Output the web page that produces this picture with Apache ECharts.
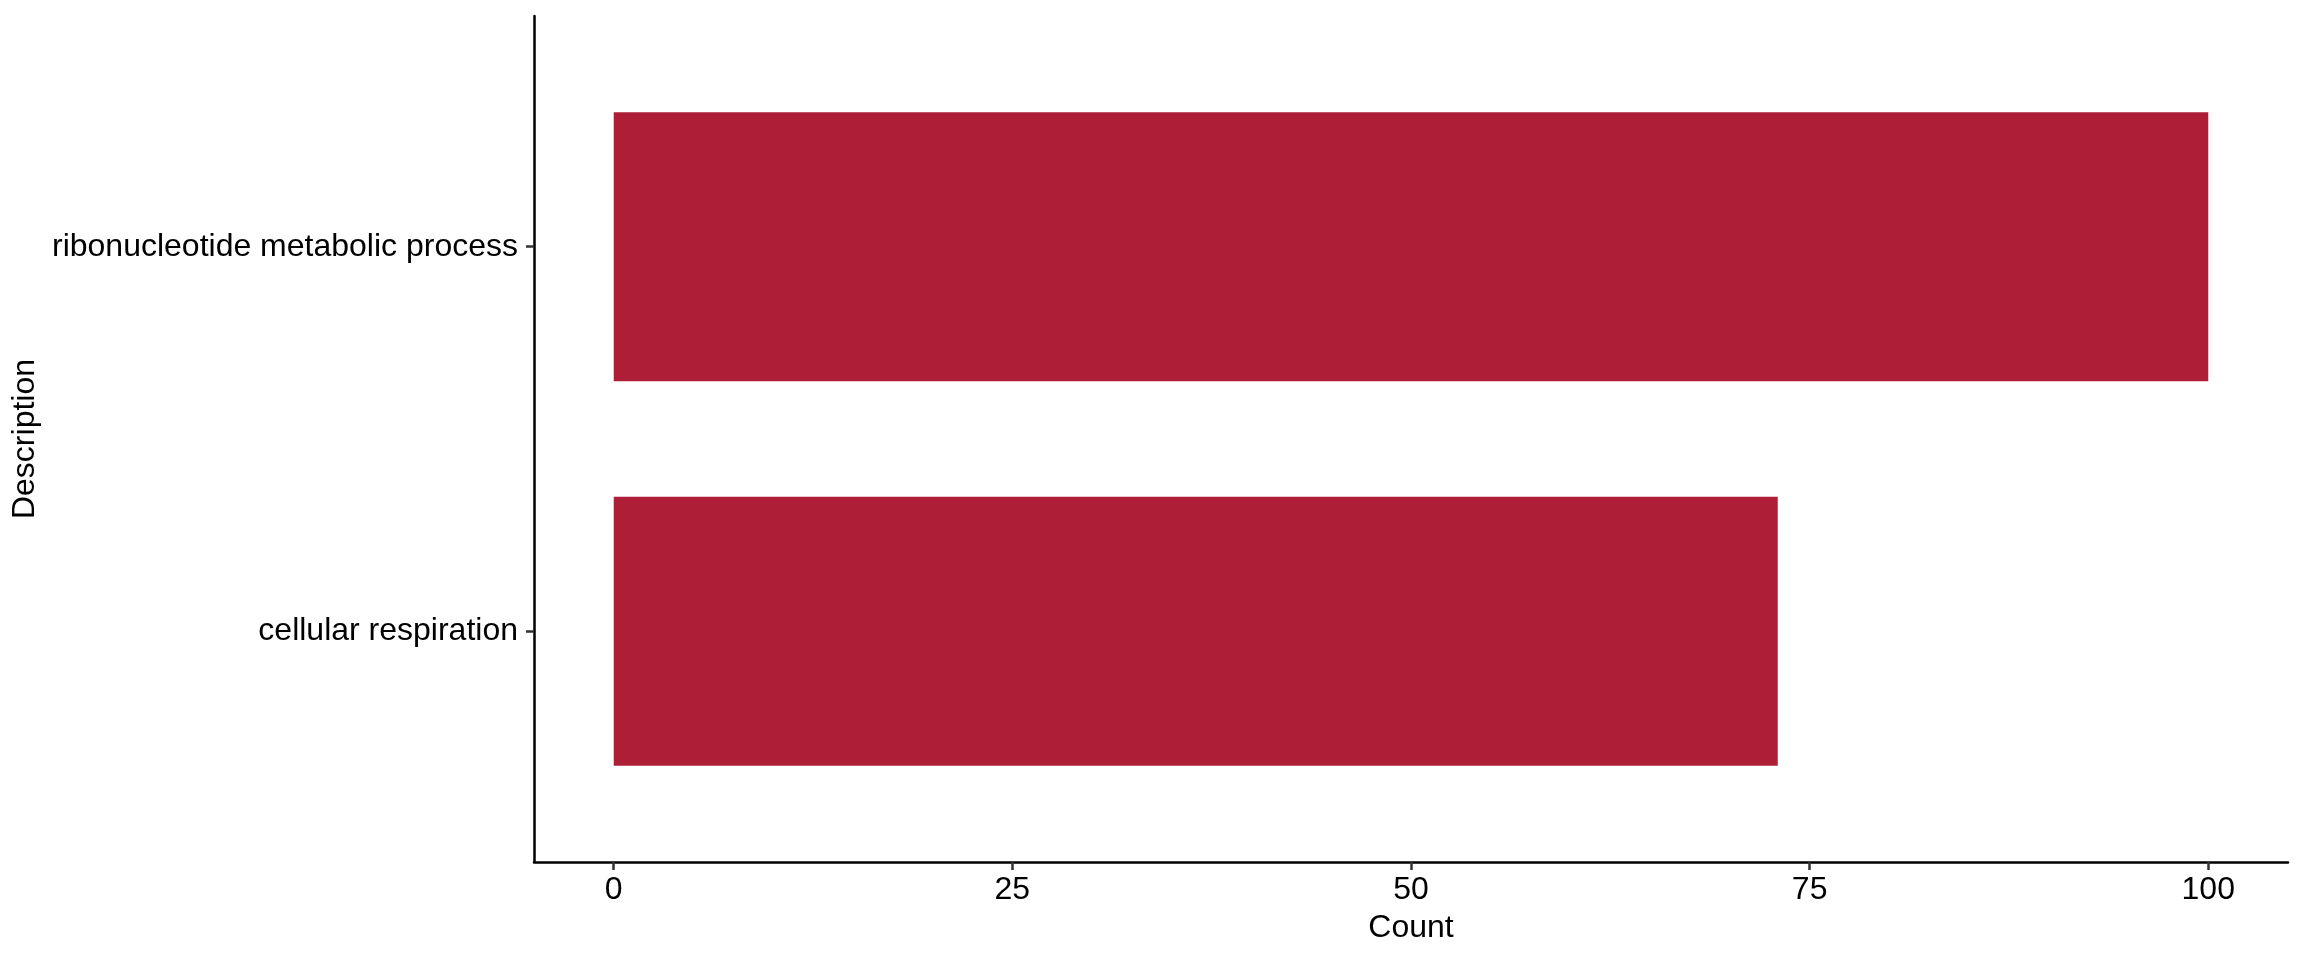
<!DOCTYPE html>
<html>
<head>
<meta charset="utf-8">
<script src="https://cdn.jsdelivr.net/npm/echarts@6/dist/echarts.min.js"></script>
<style>
html,body{margin:0;padding:0;background:#fff;}
#chart{width:2304px;height:960px;}
</style>
</head>
<body>
<div id="chart"></div>
<script>
const categories = ["cellular respiration", "ribonucleotide metabolic process"];
const counts = [73, 100];
const xTicks = [0, 25, 50, 75, 100];
const catPositions = [1, 2];

const barColor = '#AE1E37';
const font = 'Liberation Sans, Arial, Helvetica, sans-serif';

const chart = echarts.init(document.getElementById('chart'), null, {renderer: 'canvas'});
const data = counts.map((v, i) => [v, catPositions[i]]);

chart.setOption({
  animation: false,
  backgroundColor: '#ffffff',
  grid: {left: 534, right: 16, top: 16, bottom: 98, containLabel: false},
  xAxis: {
    type: 'value',
    min: -5, max: 105,
    name: 'Count',
    nameLocation: 'middle',
    nameGap: 50,
    nameTextStyle: {color: '#000', fontSize: 32, fontFamily: font},
    axisLine: {show: true, onZero: false, lineStyle: {color: '#000', width: 2.5}},
    axisTick: {show: true, length: 8, lineStyle: {color: '#333', width: 2.5}, customValues: xTicks},
    axisLabel: {color: '#000', fontSize: 32, fontFamily: font, margin: 12, customValues: xTicks},
    splitLine: {show: false}
  },
  yAxis: {
    type: 'value',
    min: 0.4, max: 2.6,
    name: 'Description',
    nameLocation: 'middle',
    nameRotate: 90,
    nameGap: 483,
    nameTextStyle: {color: '#000', fontSize: 32, fontFamily: font},
    axisLine: {show: true, onZero: false, lineStyle: {color: '#000', width: 2.5}},
    axisTick: {show: true, length: 8, lineStyle: {color: '#333', width: 2.5}, customValues: catPositions},
    axisLabel: {
      color: '#000', fontSize: 32, fontFamily: font, margin: 16,
      padding: [14, 0, 0, 0],
      customValues: catPositions,
      formatter: function (v) {
        const idx = catPositions.indexOf(Math.round(v));
        return idx >= 0 ? categories[idx] : '';
      }
    },
    splitLine: {show: false}
  },
  series: [{
    type: 'custom',
    data: data,
    encode: {x: 0, y: 1},
    renderItem: function (params, api) {
      const v = api.value(0), c = api.value(1);
      const p0 = api.coord([0, c + 0.35]);
      const p1 = api.coord([v, c - 0.35]);
      return {
        type: 'rect',
        shape: {x: p0[0], y: p0[1], width: p1[0] - p0[0], height: p1[1] - p0[1]},
        style: {fill: barColor}
      };
    }
  }]
});
</script>
</body>
</html>
